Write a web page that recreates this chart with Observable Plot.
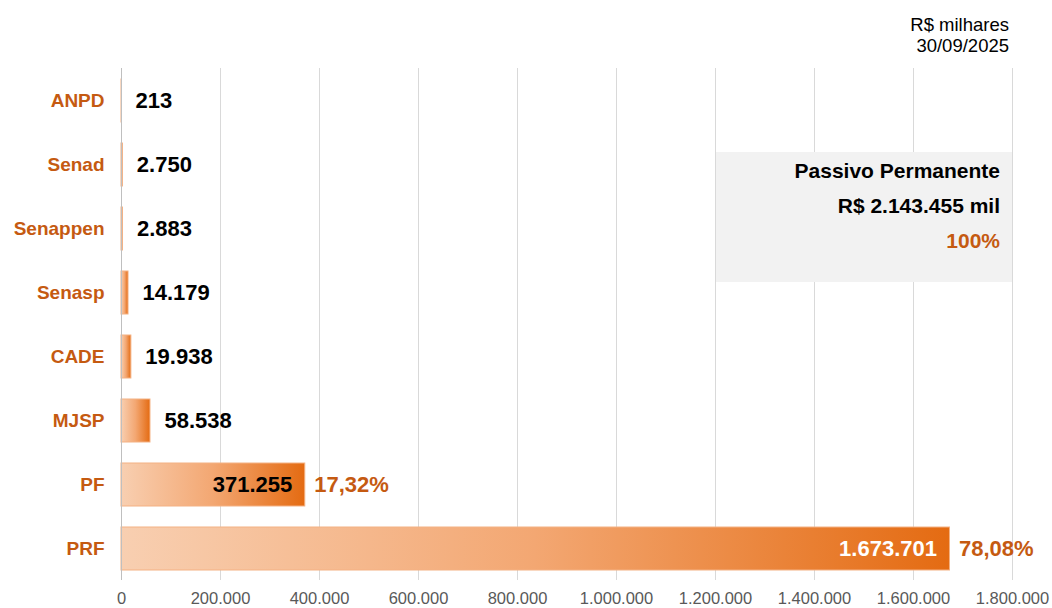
<!DOCTYPE html>
<html>
<head>
<meta charset="utf-8">
<script src="https://cdn.jsdelivr.net/npm/d3@7"></script>
<script src="https://cdn.jsdelivr.net/npm/@observablehq/plot@0.6"></script>
<style>
  html, body { margin: 0; padding: 0; background: #fff; }
  #wrap { position: relative; width: 1052px; height: 608px; font-family: "Liberation Sans", Arial, sans-serif; }
  #unit { position: absolute; right: 43px; top: 14px; text-align: right; font-size: 18.5px; line-height: 21px; color: #000; }
  #box { position: absolute; left: 716px; top: 152px; width: 296px; height: 130px; background: #f2f2f2;
         box-sizing: border-box; padding: 1px 12px 0 0; text-align: right; font-weight: bold; font-size: 21px; line-height: 35px; color: #000; }
  #box .pct { color: #C55A11; }
  g[aria-label="y-axis tick label"] text { fill: #C55A11; font-weight: bold; }
  g[aria-label="x-axis tick label"] text { fill: #595959; }
</style>
</head>
<body>
<div id="wrap"></div>
<script>
const categories = ["ANPD", "Senad", "Senappen", "Senasp", "CADE", "MJSP", "PF", "PRF"];
const values = [213, 2750, 2883, 14179, 19938, 58538, 371255, 1673701];
const percentLabels = [null, null, null, null, null, null, "17,32%", "78,08%"];
const xTicks = [0, 200000, 400000, 600000, 800000, 1000000, 1200000, 1400000, 1600000, 1800000];
const totalValue = 2143455;
const unitLines = ["R$ milhares", "30/09/2025"];
const boxLines = ["Passivo Permanente", "R$ 2.143.455 mil", "100%"];

const locale = d3.formatLocale({decimal: ",", thousands: ".", grouping: [3], currency: ["R$ ", ""]});
const fmt = locale.format(",d");

const data = categories.map((c, i) => ({cat: c, value: values[i], pct: percentLabels[i]}));
const insideThreshold = 300000;
const outside = data.filter(d => d.value < insideThreshold);
const inside = data.filter(d => d.value >= insideThreshold);

const plot = Plot.plot({
  width: 1052,
  height: 608,
  marginLeft: 121,
  marginRight: 40,
  marginTop: 68,
  marginBottom: 28,
  style: {fontFamily: "'Liberation Sans', Arial, sans-serif", background: "#fff"},
  x: {domain: [0, 1800000], label: null},
  y: {domain: categories, paddingInner: 0.33, paddingOuter: 0.165, label: null},
  marks: [
    Plot.gridX(xTicks, {stroke: "#d9d9d9", strokeOpacity: 1, strokeWidth: 1}),
    Plot.axisX(xTicks, {tickSize: 0, tickPadding: 12, tickFormat: fmt, fontSize: 16.5, fill: "#595959", label: null}),
    Plot.axisY({tickSize: 0, tickPadding: 17, fontSize: 19, fontWeight: "bold", fill: "#C55A11", label: null}),
    Plot.barX(data, {x: "value", y: "cat", fill: "url(#barGrad)", stroke: "#f4b183", strokeWidth: 1}),
    Plot.ruleX([0], {stroke: "#bfbfbf"}),
    Plot.text(outside, {x: "value", y: "cat", text: d => fmt(d.value), textAnchor: "start", dx: 14,
      fontSize: 22, fontWeight: "bold", fill: "#000"}),
    Plot.text(inside, {x: "value", y: "cat", text: d => fmt(d.value), textAnchor: "end", dx: -13,
      fontSize: 22, fontWeight: "bold", fill: d => d.value > totalValue / 2 ? "#fff" : "#000"}),
    Plot.text(inside, {x: "value", y: "cat", text: "pct", textAnchor: "start", dx: 9,
      fontSize: 22, fontWeight: "bold", fill: "#C55A11"})
  ]
});

// gradient definition for bars
const ns = "http://www.w3.org/2000/svg";
const defs = document.createElementNS(ns, "defs");
const grad = document.createElementNS(ns, "linearGradient");
grad.setAttribute("id", "barGrad");
grad.setAttribute("x1", "0"); grad.setAttribute("x2", "1");
grad.setAttribute("y1", "0"); grad.setAttribute("y2", "0");
[["0", "#f8cfb1"], ["0.5", "#f3a772"], ["1", "#e46b12"]].forEach(([o, c]) => {
  const s = document.createElementNS(ns, "stop");
  s.setAttribute("offset", o); s.setAttribute("stop-color", c);
  grad.appendChild(s);
});
defs.appendChild(grad);
plot.insertBefore(defs, plot.firstChild);

const wrap = document.getElementById("wrap");
wrap.appendChild(plot);

const unit = document.createElement("div");
unit.id = "unit";
unit.innerHTML = unitLines.map(t => `<div>${t}</div>`).join("");
wrap.appendChild(unit);

const box = document.createElement("div");
box.id = "box";
box.innerHTML = boxLines.map((t, i) => `<div class="${i === boxLines.length - 1 ? "pct" : ""}">${t}</div>`).join("");
wrap.appendChild(box);
</script>
</body>
</html>
